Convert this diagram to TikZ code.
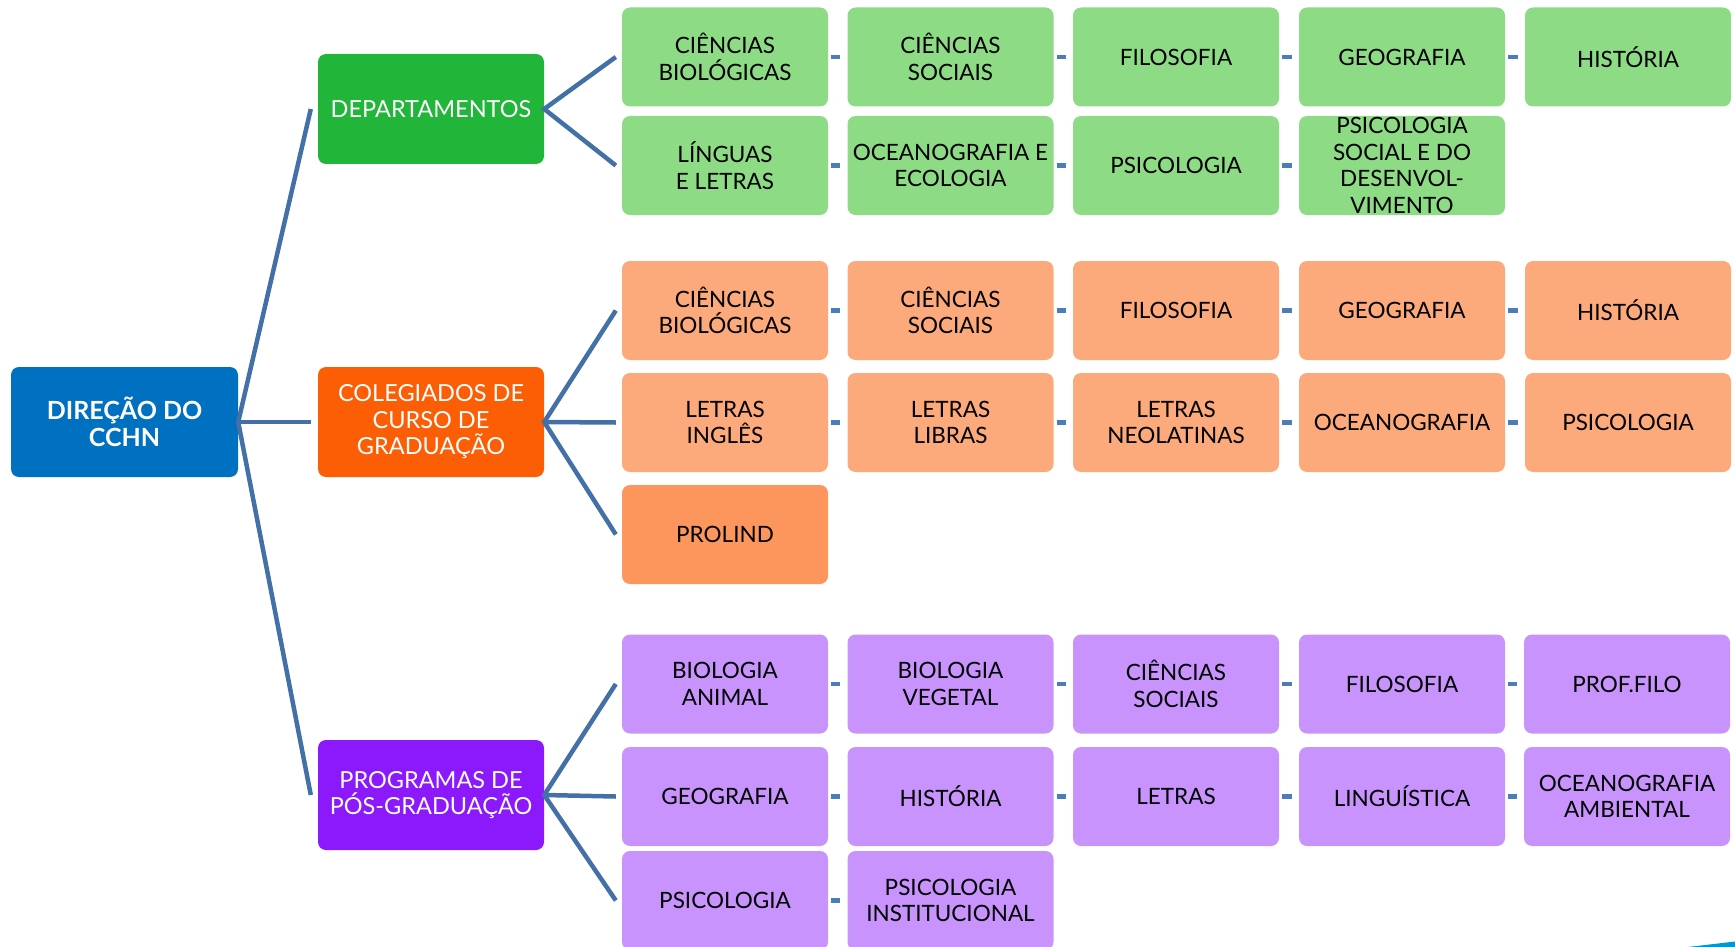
\documentclass[tikz,border=0pt]{standalone}
\usepackage{fontspec}
\setmainfont{Lato}
\definecolor{cDir}{HTML}{0070C0}
\definecolor{cDep}{HTML}{21B53A}
\definecolor{cCol}{HTML}{FB5E05}
\definecolor{cPro}{HTML}{8B19FB}
\definecolor{cG}{HTML}{8EDB86}
\definecolor{cO}{HTML}{FCA97B}
\definecolor{cOd}{HTML}{FD965D}
\definecolor{cP}{HTML}{C893FD}
\definecolor{cLine}{HTML}{4470A8}
\definecolor{cDash}{HTML}{4A7DBA}
\definecolor{cDeco}{HTML}{0097D0}
\newcommand\childfnt{\fontsize{22.5}{26.5}\selectfont}
\newcommand\headfnt{\fontsize{23.5}{26.5}\selectfont}
\newcommand\dirfnt{\fontsize{25}{26.5}\selectfont\bfseries}
\begin{document}
\begin{tikzpicture}[x=1pt,y=-1pt,
  box/.style={rounded corners=8pt, inner sep=0pt, align=center, draw=none},
  child/.style={box, minimum width=206pt, minimum height=99pt, font=\childfnt, text=black},
  head/.style={box, minimum width=226pt, minimum height=110pt, font=\headfnt, text=white},
  conn/.style={draw=cLine, line width=4.5pt, line join=miter},
  dashc/.style={draw=cDash, line width=4.5pt, shorten <=3pt, shorten >=7pt}]
\useasboundingbox (0,0) rectangle (1735,947);
\clip (0,0) rectangle (1735,947);

% headers
\node[head, fill=cDir, minimum width=227pt, font=\dirfnt] (dir) at (124.5,422) {DIREÇÃO DO\\CCHN};
\node[head, fill=cDep] (dep) at (431,109) {DEPARTAMENTOS};
\node[head, fill=cCol] (col) at (431,422) {COLEGIADOS DE\\CURSO DE\\GRADUAÇÃO};
\node[head, fill=cPro] (pro) at (431,795) {PROGRAMAS DE\\PÓS-GRADUAÇÃO};

% green
\node[child, fill=cG] (g11) at (725,57) {CIÊNCIAS\\BIOLÓGICAS};
\node[child, fill=cG] (g12) at (950.5,57) {CIÊNCIAS\\SOCIAIS};
\node[child, fill=cG] (g13) at (1176,57) {FILOSOFIA};
\node[child, fill=cG] (g14) at (1402,57) {GEOGRAFIA};
\node[child, fill=cG] (g15) at (1628,57) {HISTÓRIA};
\node[child, fill=cG] (g21) at (725,165.5) {LÍNGUAS\\E LETRAS};
\node[child, fill=cG] (g22) at (950.5,165.5) {OCEANOGRAFIA E\\ECOLOGIA};
\node[child, fill=cG] (g23) at (1176,165.5) {PSICOLOGIA};
\node[child, fill=cG] (g24) at (1402,165.5) {PSICOLOGIA\\SOCIAL E DO\\DESENVOL-\\VIMENTO};

% orange
\node[child, fill=cO] (o11) at (725,310.5) {CIÊNCIAS\\BIOLÓGICAS};
\node[child, fill=cO] (o12) at (950.5,310.5) {CIÊNCIAS\\SOCIAIS};
\node[child, fill=cO] (o13) at (1176,310.5) {FILOSOFIA};
\node[child, fill=cO] (o14) at (1402,310.5) {GEOGRAFIA};
\node[child, fill=cO] (o15) at (1628,310.5) {HISTÓRIA};
\node[child, fill=cO] (o21) at (725,422.5) {LETRAS\\INGLÊS};
\node[child, fill=cO] (o22) at (950.5,422.5) {LETRAS\\LIBRAS};
\node[child, fill=cO] (o23) at (1176,422.5) {LETRAS\\NEOLATINAS};
\node[child, fill=cO] (o24) at (1402,422.5) {OCEANOGRAFIA};
\node[child, fill=cO] (o25) at (1628,422.5) {PSICOLOGIA};
\node[child, fill=cOd] (o31) at (725,534.5) {PROLIND};

% purple
\node[child, fill=cP] (p11) at (725,684) {BIOLOGIA\\ANIMAL};
\node[child, fill=cP] (p12) at (950.5,684) {BIOLOGIA\\VEGETAL};
\node[child, fill=cP] (p13) at (1176,684) {CIÊNCIAS\\SOCIAIS};
\node[child, fill=cP] (p14) at (1402,684) {FILOSOFIA};
\node[child, fill=cP] (p15) at (1627,684) {PROF.FILO};
\node[child, fill=cP] (p21) at (725,796.5) {GEOGRAFIA};
\node[child, fill=cP] (p22) at (950.5,796.5) {HISTÓRIA};
\node[child, fill=cP] (p23) at (1176,796.5) {LETRAS};
\node[child, fill=cP] (p24) at (1402,796.5) {LINGUÍSTICA};
\node[child, fill=cP] (p25) at (1627,796.5) {OCEANOGRAFIA\\AMBIENTAL};
\node[child, fill=cP] (p31) at (725,900.5) {PSICOLOGIA};
\node[child, fill=cP] (p32) at (950.5,900.5) {PSICOLOGIA\\INSTITUCIONAL};

% main connectors
\draw[conn] ([xshift=-7pt]dep.west) -- (dir.east) -- ([xshift=-7pt]pro.west);
\draw[conn] (dir.east) -- ([xshift=-7pt]col.west);

% header to children
\draw[conn] ([xshift=-6pt]g11.west) -- (dep.east) -- ([xshift=-6pt]g21.west);
\draw[conn] ([xshift=-6pt]o11.west) -- (col.east) -- ([xshift=-6pt]o31.west);
\draw[conn] (col.east) -- ([xshift=-6pt]o21.west);
\draw[conn] ([xshift=-6pt]p11.west) -- (pro.east) -- ([xshift=-6pt]p31.west);
\draw[conn] (pro.east) -- ([xshift=-6pt]p21.west);

% dashes
\foreach \a/\b in {g11/g12,g12/g13,g13/g14,g14/g15,g21/g22,g22/g23,g23/g24,
  o11/o12,o12/o13,o13/o14,o14/o15,o21/o22,o22/o23,o23/o24,o24/o25,
  p11/p12,p12/p13,p13/p14,p14/p15,p21/p22,p22/p23,p23/p24,p24/p25,p31/p32}
  \draw[dashc] (\a.east) -- (\b.west);

% corner decoration
\fill[cDeco] (1688,947) -- (1735,941.5) -- (1735,947) -- cycle;
\end{tikzpicture}
\end{document}
